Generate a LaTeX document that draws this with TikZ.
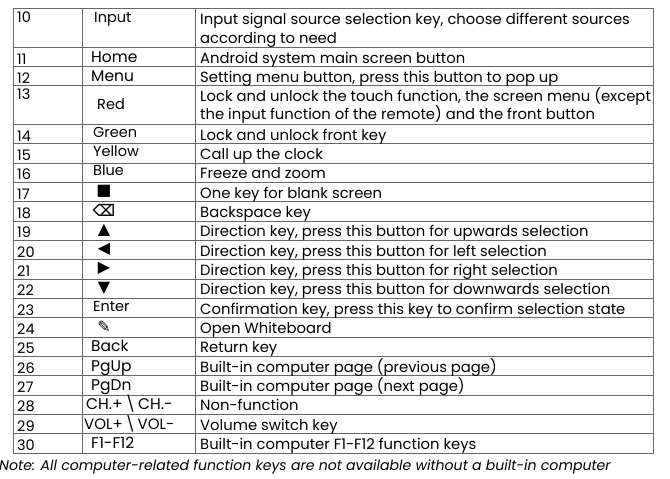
\documentclass[tikz,border=0pt]{standalone}
\usepackage{fontspec}
\setmainfont{Poppins}
\newfontfamily\sym{DejaVu Sans}
\begin{document}
\begin{tikzpicture}[x=1pt,y=-1pt,
  grid/.style={draw=black!60,line width=0.8pt},
  cell/.style={anchor=base west,inner sep=0pt,font=\fontsize{14.8}{16}\selectfont},
  num/.style={anchor=base west,inner sep=0pt,font=\fontsize{14.5}{16}\selectfont},
  keyb/.style={anchor=base west,inner sep=0pt,font=\fontsize{15.5}{16}\selectfont},
  keyc/.style={anchor=base west,inner sep=0pt,font=\fontsize{14.5}{16}\selectfont}]
\useasboundingbox (0,0) rectangle (670,479);
\def\u{19.333}
\draw[grid] (13,8) rectangle (653,453);
\draw[grid] (82,8) -- (82,453);
\draw[grid] (195,8) -- (195,453);
\draw[grid] (13,47) -- (653,47);
\foreach \k in {1,2,4,5,...,20}{
  \draw[grid] (13,{47+\k*\u}) -- (653,{47+\k*\u});
}
% row 10
\node[num] (n10) at (17,23) {10};
\node[keyc] (k10) at (94,22) {Input};
\node[cell] (d10) at (200,24) {Input signal source selection key, choose different sources};
\node[cell] (d10b) at (200,43) {according to need};
% generic rows
\foreach \n/\r/\d in {
 11/0/{Android system main screen button},
 12/1/{Setting menu button, press this button to pop up},
 14/4/{Lock and unlock front key},
 15/5/{Call up the clock},
 16/6/{Freeze and zoom},
 23/13/{Confirmation key, press this key to confirm selection state},
 25/15/{Return key},
 26/16/{Built-in computer page (previous page)},
 27/17/{Built-in computer page (next page)},
 28/18/{Non-function},
 29/19/{Volume switch key},
 30/20/{Built-in computer F1-F12 function keys}}{
  \node[num] (n\n) at (17,{47+\r*\u+17}) {\n};
  \node[cell] (d\n) at (200,{47+\r*\u+16}) {\d};
}
\foreach \r/\kk in {0/Home,1/Menu,15/Back,16/PgUp,17/PgDn,20/F1-F12}{
  \node[keyb] (kk\r) at (91,{47+\r*\u+15}) {\kk};
}
\node[keyb] (kk18) at (86,{47+18*\u+15}) {CH.+\,\textbackslash\,CH.-};
\node[keyb,font=\fontsize{15}{16}\selectfont] (kk19) at (84,{47+19*\u+15}) {VOL+\,\textbackslash\,VOL-};
\foreach \r/\kk in {4/Green,5/Yellow,6/Blue,13/Enter}{
  \node[keyc] (kc\r) at (93,{47+\r*\u+13}) {\kk};
}
% row 13
\node[num] (n13) at (17,{47+2*\u+14}) {13};
\node[keyc] (k13) at (97,{47+2*\u+24}) {Red};
\node[cell] (d13) at (200,{47+2*\u+16}) {Lock and unlock the touch function, the screen menu (except};
\node[cell] (d13b) at (200,{47+3*\u+15}) {the input function of the remote) and the front button};
% icon rows
\foreach \n/\r/\s/\d in {
 17/7/■/{One key for blank screen},
 18/8/⌫/{Backspace key},
 19/9/▲/{Direction key, press this button for upwards selection},
 20/10/◀/{Direction key, press this button for left selection},
 21/11/▶/{Direction key, press this button for right selection},
 22/12/▼/{Direction key, press this button for downwards selection},
 24/14/✎/{Open Whiteboard}}{
  \node[num] (n\n) at (17,{47+\r*\u+17}) {\n};
  \node[cell] (d\n) at (200,{47+\r*\u+16}) {\d};
  \node[inner sep=0pt,font=\sym\bfseries\fontsize{16}{16}\selectfont] (s\n) at (104,{47+\r*\u+9}) {\s};
}
\node[anchor=base west,inner sep=0pt,font=\itshape\fontsize{14.1}{16}\selectfont] (note) at (-1,470) {Note: All computer-related function keys are not available without a built-in computer};
\end{tikzpicture}
\end{document}
